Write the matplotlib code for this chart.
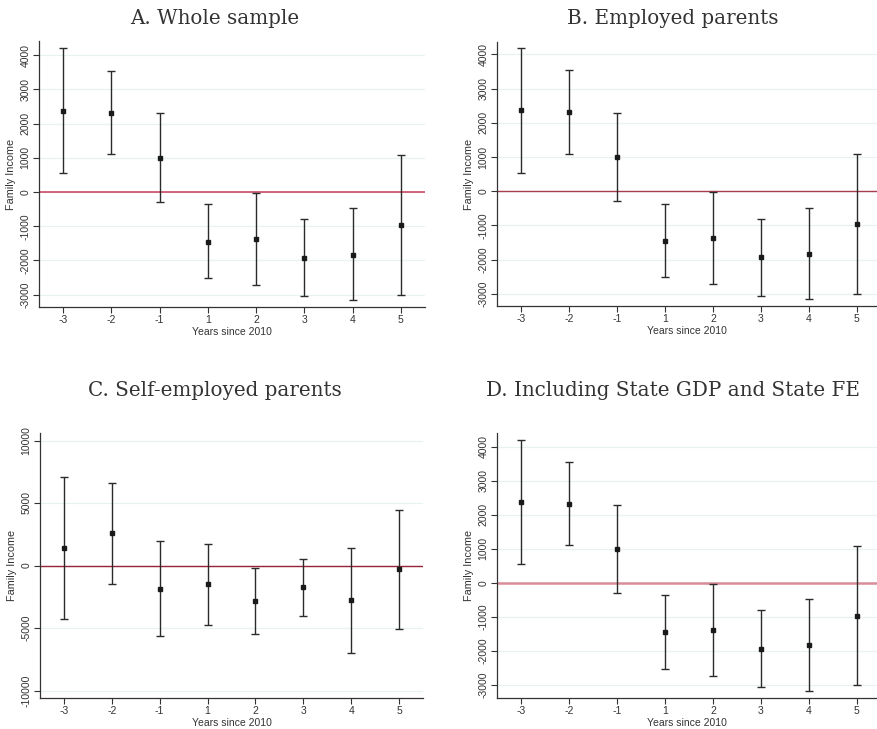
import matplotlib.pyplot as plt

years = ["-3", "-2", "-1", "1", "2", "3", "4", "5"]
pos = list(range(len(years)))

# A. Whole sample
coef_a = [2365, 2316, 1000, -1450, -1370, -1930, -1830, -960]
hi_a = [4195, 3540, 2300, -360, -30, -800, -480, 1080]
lo_a = [545, 1100, -290, -2520, -2720, -3050, -3160, -3010]

# B. Employed parents
coef_b = [2365, 2316, 1000, -1450, -1370, -1930, -1830, -960]
hi_b = [4195, 3540, 2300, -360, -30, -800, -480, 1080]
lo_b = [545, 1100, -290, -2520, -2720, -3050, -3160, -3010]

# C. Self-employed parents
coef_c = [1440, 2590, -1840, -1490, -2800, -1730, -2770, -290]
hi_c = [7090, 6610, 2000, 1730, -160, 560, 1390, 4480]
lo_c = [-4240, -1440, -5650, -4720, -5440, -4030, -6960, -5040]

# D. Including State GDP and State FE
coef_d = [2365, 2316, 1000, -1450, -1370, -1930, -1830, -960]
hi_d = [4195, 3540, 2300, -360, -30, -800, -480, 1080]
lo_d = [545, 1100, -290, -2520, -2720, -3050, -3160, -3010]

ticks_small = [-3000, -2000, -1000, 0, 1000, 2000, 3000, 4000]
ticks_c = [-10000, -5000, 0, 5000, 10000]

W, H = 877, 729
fig = plt.figure(figsize=(W / 100, H / 100), dpi=100)
sans = "Liberation Sans"


def box(l, r, t, b):
    return [l / W, 1 - b / H, (r - l) / W, (b - t) / H]


def panel(rect, coef, lo, hi, yticks, ylim, xmax, zcol, zlw):
    ax = fig.add_axes(rect)
    for y in yticks:
        ax.axhline(y, color="#e9f1f2", lw=0.9, zorder=0)
    ax.axhline(0, color=zcol, lw=zlw, zorder=1)
    yerr = [[c - l for c, l in zip(coef, lo)], [h - c for c, h in zip(coef, hi)]]
    ax.errorbar(pos, coef, yerr=yerr, fmt="s", color="#1a1a1a", ecolor="#2b2b2b",
                elinewidth=1.0, capsize=2.6, capthick=1.0, markersize=3.5, zorder=3)
    ax.set_xlim(-0.5, xmax)
    ax.set_ylim(*ylim)
    ax.set_xticks(pos)
    ax.set_xticklabels(years, fontsize=7.5, family=sans, color="#333333")
    ax.set_yticks(yticks)
    ax.set_yticklabels([str(v) for v in yticks], rotation=90, va="center",
                       fontsize=7.5, family=sans, color="#333333")
    for s in ["top", "right"]:
        ax.spines[s].set_visible(False)
    for s in ["left", "bottom"]:
        ax.spines[s].set_color("#333333")
        ax.spines[s].set_linewidth(0.9)
    ax.tick_params(length=4, width=0.8, color="#333333", pad=2)
    ax.set_xlabel("Years since 2010", fontsize=7.5, family=sans, color="#333333", labelpad=1)
    ax.set_ylabel("Family Income", fontsize=7.8, family=sans, color="#333333", labelpad=3)
    return ax


panel(box(39, 425, 41, 307), coef_a, lo_a, hi_a, ticks_small, (-3360, 4410), 7.5, "#c93a5c", 1.1)
panel(box(497, 877, 42, 306), coef_b, lo_b, hi_b, ticks_small, (-3355, 4365), 7.42, "#a93c4e", 1.0)
panel(box(40, 423, 433, 698), coef_c, lo_c, hi_c, ticks_c, (-10600, 10600), 7.5, "#98233a", 1.0)
panel(box(497, 877, 433, 698), coef_d, lo_d, hi_d, ticks_small, (-3380, 4400), 7.42, "#d98c98", 1.8)

serif = "DejaVu Serif"
fig.text(215 / W, 1 - 18 / H, "A. Whole sample", ha="center", va="center",
         fontsize=14.3, family=serif, color="#333333")
fig.text(673 / W, 1 - 18 / H, "B. Employed parents", ha="center", va="center",
         fontsize=14.3, family=serif, color="#333333")
fig.text(215 / W, 1 - 391 / H, "C. Self-employed parents", ha="center", va="center",
         fontsize=14.3, family=serif, color="#333333")
fig.text(673 / W, 1 - 391 / H, "D. Including State GDP and State FE", ha="center", va="center",
         fontsize=14.3, family=serif, color="#333333")

fig.savefig("out.png", dpi=100)
